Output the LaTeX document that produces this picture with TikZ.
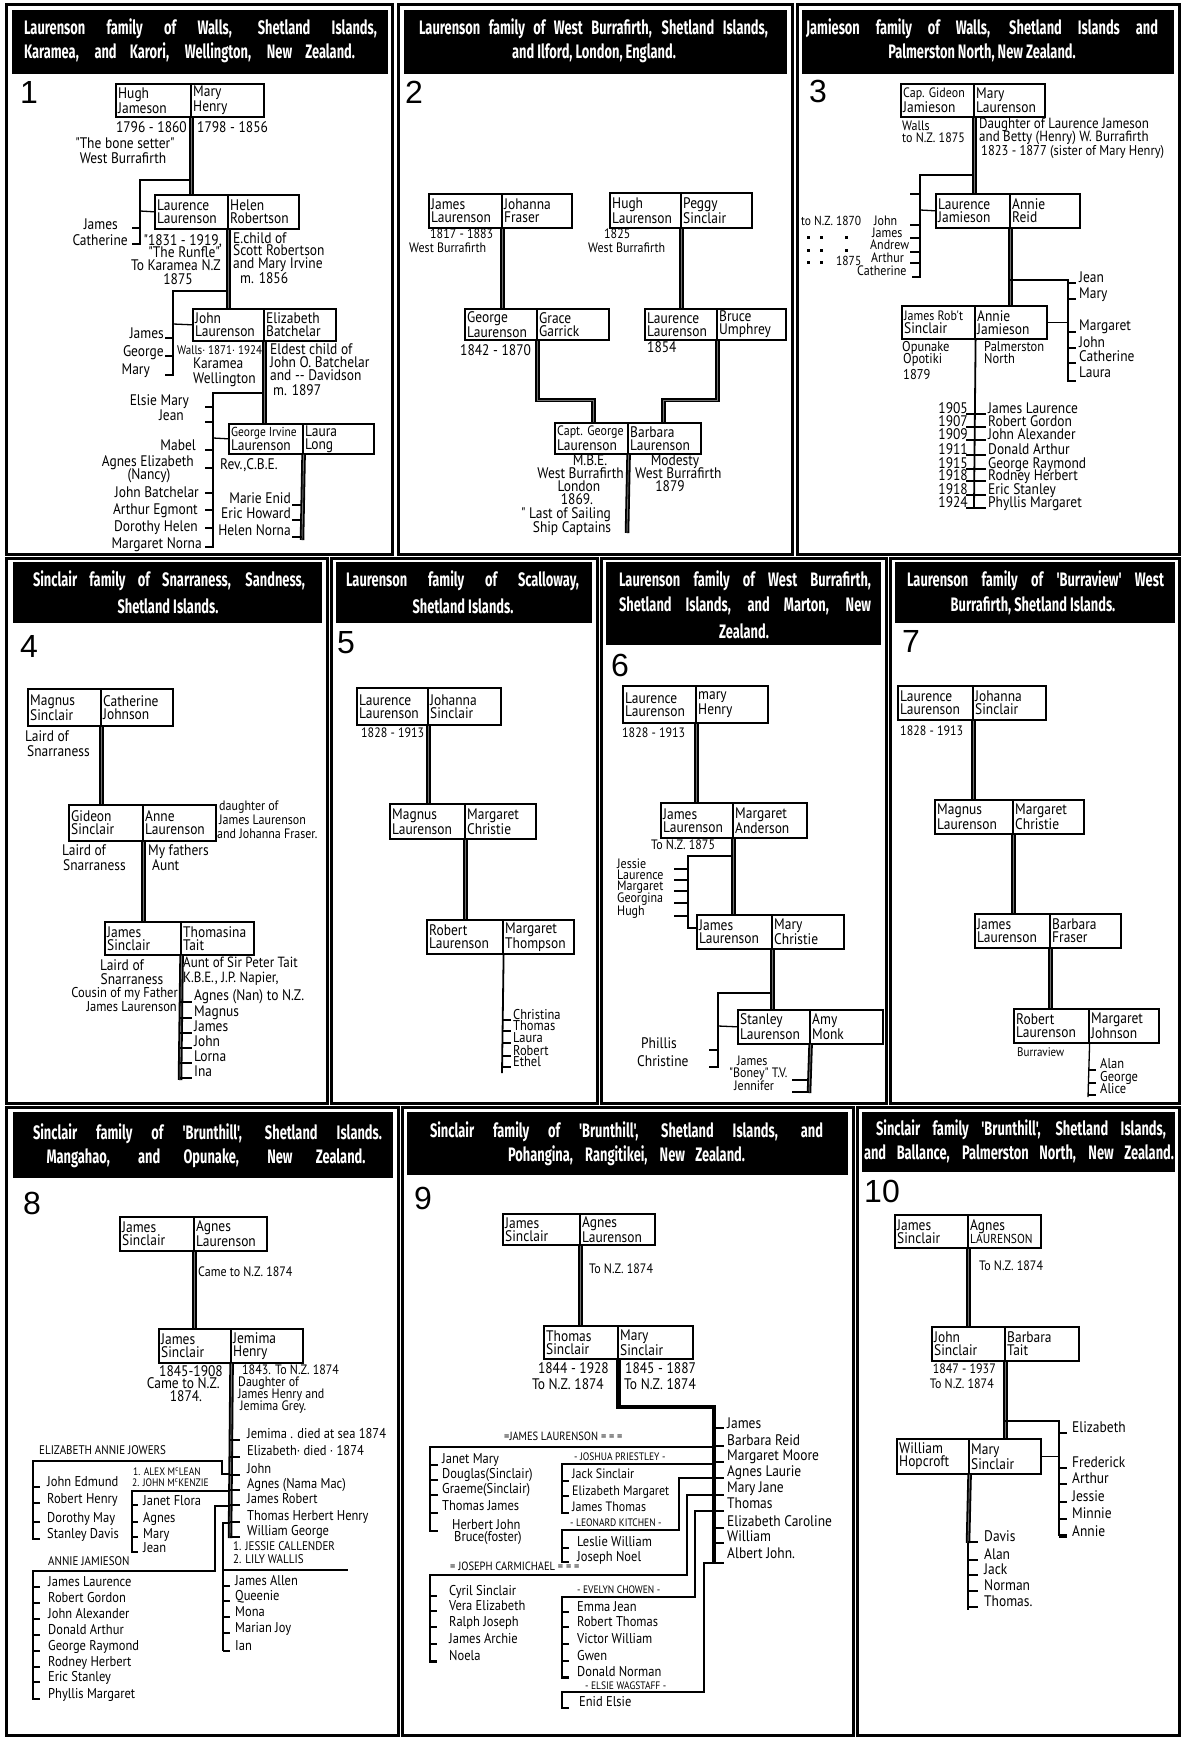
\documentclass[tikz,border=0pt]{standalone}
\usepackage{fontspec}
\setmainfont{PT Sans}
\newfontfamily\bfont[FakeStretch=0.88]{PT Sans}
\newfontfamily\hfont[FakeStretch=0.66]{Fira Sans}
\newfontfamily\nfont{Liberation Sans}
\newcounter{tn}
\newcommand\lbl[3][tx]{\stepcounter{tn}\node[#1] (n\arabic{tn}) at (#2) {#3};}
\newcommand\tk[3]{\draw[kin] (#1,#3) -- (#2,#3);}
\newcommand\cpl[8]{%
  \node[bx, anchor=north west, minimum width={#3-#2}, minimum height={#6-#5}] (#1-l) at (#2,#5) {};
  \node[bx, anchor=north west, minimum width={#4-#3}, minimum height={#6-#5}] (#1-r) at (#3,#5) {};
  \node[bt, anchor=west] (#1-lt) at ([xshift=3pt]#1-l.west) {#7};
  \node[bt, anchor=west] (#1-rt) at ([xshift=3pt]#1-r.west) {#8};}
\newcommand\hdr[5]{\node[hd, minimum width={#4-#2}, minimum height={#5-#3}] (#1) at (#2,#3) {};}
\begin{document}
\begin{tikzpicture}[x=1pt,y=-1pt,
  bx/.style={draw, line width=1.6pt, inner sep=0pt},
  bt/.style={font=\bfont\fontsize{15.3}{13}\selectfont, inner sep=0pt, align=left},
  tx/.style={font=\bfont\fontsize{15.3}{15.3}\selectfont, inner sep=0pt, anchor=west, text height=10.5pt, text depth=3.5pt},
  txr/.style={tx, anchor=east}, txc/.style={tx, anchor=center},
  tight/.style={text height=7.5pt, text depth=2pt},
  fs/.code={\pgfmathsetmacro\fsz{#1*1.136}\pgfkeysalso{font=\bfont\fontsize{\fsz}{\fsz}\selectfont}},
  desc/.style={line width=1.8pt, double=black!55, double distance=0.9pt},
  thk/.style={line width=4.5pt},
  kin/.style={line width=1.3pt},
  ml/.style={line width=2.6pt},
  frame/.style={line width=3pt},
  hd/.style={fill=black, inner sep=0pt, anchor=north west},
  ht/.style={font=\hfont\bfseries\fontsize{19.5}{19.5}\selectfont, text=white, inner sep=0pt},
  num/.style={font=\nfont\fontsize{32}{32}\selectfont, inner sep=0pt, anchor=west}]
\useasboundingbox (0,0) rectangle (1184,1739);
\fill[white] (0,0) rectangle (1184,1739);

% ---------------- Panel 1
\draw[frame] (6,5) rectangle (392,554);
\hdr{h1}{12}{10}{388}{74}
\node[ht] (h1a) at (200.5,29) {\makebox[353pt][s]{Laurenson family of Walls, Shetland Islands,}};
\node[ht] (h1b) at (189.5,53) {\makebox[331pt][s]{Karamea, and Karori, Wellington, New Zealand.}};
\node[num] (p1) at (20,92) {1};
\cpl{a1}{115}{190}{263}{83}{116}{Hugh\\Jameson}{Mary\\Henry}
\lbl[txr]{187,129}{1796 - 1860}
\lbl{197,129}{1798 - 1856}
\lbl[txc]{125,145}{"The bone setter"}
\lbl[txc]{123,160}{West Burrafirth}
\cpl{b1}{154}{227}{298}{194}{228}{Laurence\\Laurenson}{Helen\\Robertson}
\draw[desc] (a1-l.south east) -- (a1-l.south east |- b1-l.north);
\draw[kin] (190,180) -- (140,180) -- (140,244) -- (132,244);
\tk{132}{140}{228}
\draw[kin] (140,211) -- (b1-l.west);
\lbl[txr]{118,226}{James}
\lbl[txr]{128,242}{Catherine}
\lbl[txr]{222,242}{"1831 - 1919,}
\lbl[txr]{220,254}{"The Runfle"}
\lbl[txr]{221,267}{To Karamea N.Z}
\lbl[txc]{178,281}{1875}
\lbl{233,240}{E.child of}
\lbl{233,252}{Scott Robertson}
\lbl{233,265}{and Mary Irvine}
\lbl{240,280}{m. 1856}
\cpl{c1}{192}{263}{335}{308}{340}{John\\Laurenson}{Elizabeth\\Batchelar}
\draw[desc] (b1-l.south east) -- (b1-l.south east |- c1-l.north);
\draw[kin] (227,291) -- (173,291) -- (173,375) -- (165,375);
\tk{165}{173}{338} \tk{165}{173}{356}
\draw[kin] (173,324) -- (c1-l.west);
\lbl[txr]{164,335}{James}
\lbl[txr]{164,353}{George}
\lbl[txr]{150,371}{Mary}
\lbl[tx,fs=11]{177,351}{Walls· 1871· 1924}
\lbl{193,365}{Karamea}
\lbl{193,380}{Wellington}
\lbl{270,351}{Eldest child of}
\lbl{270,364}{John O. Batchelar}
\lbl{270,377}{and {-}{-} Davidson}
\lbl{273,392}{m. 1897}
\cpl{d1}{228}{302}{373}{423}{453}{{\fontsize{13}{13}\selectfont George Irvine}\\Laurenson}{Laura\\Long}
\draw[desc] (c1-l.south east) -- (c1-l.south east |- d1-l.north);
\draw[kin] (263,393) -- (213,393) -- (213,547) -- (205,547);
\foreach \y in {407,422,450,468,493,510,528} {\tk{205}{213}{\y}}
\draw[kin] (213,438) -- (d1-l.west);
\lbl[txr]{189,402}{Elsie Mary}
\lbl[txr]{184,417}{Jean}
\lbl[txr]{196,447}{Mabel}
\lbl[txr]{194,463}{Agnes Elizabeth}
\lbl[txc]{149,476}{(Nancy)}
\lbl[txr]{199,494}{John Batchelar}
\lbl[txr]{198,511}{Arthur Egmont}
\lbl[txr]{198,528}{Dorothy Helen}
\lbl[txr]{202,545}{Margaret Norna}
\lbl{220,466}{Rev.,C.B.E.}
\coordinate (d1e) at (302,540);
\draw[desc] (d1-l.south east) -- (d1e);
\foreach \y in {505,520,537} {\tk{292}{302}{\y}}
\lbl[txr]{291,500}{Marie Enid}
\lbl[txr]{291,515}{Eric Howard}
\lbl[txr]{291,532}{Helen Norna}

% ---------------- Panel 2
\draw[frame] (398,5) rectangle (792,554);
\hdr{h2}{404}{10}{787}{74}
\node[ht] (h2a) at (593.5,29) {\makebox[349pt][s]{Laurenson family of West Burrafirth, Shetland Islands,}};
\node[ht] (h2b) at (594,53) {and Ilford, London, England.};
\node[num] (p2) at (405,92) {2};
\cpl{a2}{428}{501}{571}{193}{227}{James\\Laurenson}{Johanna\\Fraser}
\lbl[tx,fs=12]{430,235}{1817 - 1883}
\lbl[tx,fs=12]{409,249}{West Burrafirth}
\cpl{b2}{464}{536}{608}{308}{339}{George\\Laurenson}{Grace\\Garrick}
\draw[desc] (a2-l.south east) -- (a2-l.south east |- b2-l.north);
\lbl{460,352}{1842 - 1870}
\cpl{c2}{609}{680}{751}{192}{227}{Hugh\\Laurenson}{Peggy\\Sinclair}
\lbl[tx,fs=12]{604,235}{1825}
\lbl[tx,fs=12]{588,249}{West Burrafirth}
\cpl{d2}{644}{716}{785}{308}{339}{Laurence\\Laurenson}{Bruce\\Umphrey}
\draw[desc] (c2-l.south east) -- (c2-l.south east |- d2-l.north);
\lbl{647,349}{1854}
\cpl{e2}{554}{627}{700}{422}{453}{{\fontsize{13.6}{13}\selectfont Capt. George}\\Laurenson}{Barbara\\Laurenson}
\draw[desc] (b2-l.south east) -- (b2-l.south east |- 0,400) -| ([xshift=-35pt]e2-l.north east);
\draw[desc] (d2-l.south east) -- (d2-l.south east |- 0,400) -| ([xshift=35pt]e2-l.north east);
\lbl[txc]{590,462}{M.B.E.}
\lbl[txr]{624,475}{West Burrafirth}
\lbl[txc]{579,488}{London}
\lbl[txc]{577,501}{1869.}
\lbl[txc]{566,515}{" Last of Sailing}
\lbl[txc]{572,529}{Ship Captains}
\lbl[txc]{675,462}{Modesty}
\lbl{635,475}{West Burrafirth}
\lbl[txc]{670,488}{1879}
\coordinate (e2e) at (627,533);
\draw[desc] (e2-l.south east) -- (e2e);

% ---------------- Panel 3
\draw[frame] (797,5) rectangle (1179,554);
\hdr{h3}{802}{10}{1174}{74}
\node[ht] (h3a) at (982,29) {\makebox[352pt][s]{Jamieson family of Walls, Shetland Islands and}};
\node[ht] (h3b) at (982,53) {Palmerston North, New Zealand.};
\node[num] (p3) at (809,91) {3};
\cpl{a3}{900}{973}{1044}{83}{116}{{\fontsize{13.6}{13}\selectfont Cap. Gideon}\\Jamieson}{Mary\\Laurenson}
\lbl[tx,fs=12]{902,127}{Walls}
\lbl[tx,fs=12]{902,139}{to N.Z. 1875}
\lbl[tx,fs=13]{979,125}{Daughter of Laurence Jameson}
\lbl[tx,fs=13]{979,138}{and Betty (Henry) W. Burrafirth}
\lbl[tx,fs=12.5]{981,152}{1823 - 1877 (sister of Mary Henry)}
\cpl{b3}{935}{1009}{1079}{193}{227}{Laurence\\Jamieson}{Annie\\Reid}
\draw[desc] (a3-l.south east) -- (a3-l.south east |- b3-l.north);
\draw[kin] (973,175) -- (920,175) -- (920,277) -- (912,277);
\foreach \y in {194,225,238,252,263} {\tk{910}{920}{\y}}
\draw[kin] (920,210) -- (b3-l.west);
\lbl[tx,fs=12]{874,222}{John}
\lbl[tx,fs=12]{872,234}{James}
\lbl[tx,fs=12]{870,246}{Andrew}
\lbl[tx,fs=12]{871,259}{Arthur}
\lbl[tx,fs=12]{857,272}{Catherine}
\lbl[tx,fs=11.5]{801,222}{to N.Z. 1870}
\foreach \x/\y in {807/236,820/236,845/236,807/249,820/249,845/249,807/261,820/261} {\fill (\x,\y) rectangle ++(3,3);}
\lbl[tx,fs=11.5]{836,262}{1875}
\cpl{c3}{901}{974}{1046}{305}{338}{{\fontsize{13.6}{13}\selectfont James Rob't}\\Sinclair}{Annie\\Jamieson}
\draw[desc] (b3-l.south east) -- (b3-l.south east |- c3-l.north);
\draw[kin] (1009,280) -- (1068,280) -- (1068,381) -- (1076,381);
\foreach \y in {283,299,332,348,363} {\tk{1068}{1076}{\y}}
\draw[kin] (c3-r.east) -- (c3-r.east -| 1068,0);
\foreach \y/\n in {279/Jean,295/Mary,327/Margaret,344/John,358/Catherine,374/Laura} {\lbl{1079,\y}{\n}}
\lbl[tx,fs=12.5]{902,348}{Opunake}
\lbl[tx,fs=12.5]{903,360}{Opotiki}
\lbl[tx,fs=12.5]{903,376}{1879}
\lbl[tx,fs=12.5]{984,348}{Palmerston}
\lbl[tx,fs=12.5]{984,360}{North}
\coordinate (c3e) at (974,507);
\draw[kin,line width=1.8pt] (c3-l.south east) -- (c3e);
\foreach \y/\a/\b in {410/1905/James Laurence,423/1907/Robert Gordon,436/1909/John Alexander,451/1911/Donald Arthur,465/1915/George Raymond,477/1918/Rodney Herbert,491/1918/Eric Stanley,504/1924/Phyllis Margaret} {\lbl[txr]{968,\y}{\a}\lbl{988,\y}{\b}\tk{966}{986}{\y+4}}

% ---------------- Panel 4
\draw[frame] (6,558) rectangle (327,1103);
\hdr{h4}{13}{562}{322}{623}
\node[ht] (h4a) at (169,581) {\makebox[272pt][s]{Sinclair family of Snarraness, Sandness,}};
\node[ht] (h4b) at (168,606) {Shetland Islands.};
\node[num] (p4) at (20,646) {4};
\cpl{a4}{27}{100}{172}{688}{725}{Magnus\\Sinclair}{Catherine\\Johnson}
\lbl{25,738}{Laird of}
\lbl{27,753}{Snarraness}
\cpl{b4}{68}{142}{215}{804}{840}{Gideon\\Sinclair}{Anne\\Laurenson}
\draw[desc] (a4-l.south east) -- (a4-l.south east |- b4-l.north);
\lbl[tx,fs=12]{219,807}{daughter of}
\lbl[tx,fs=12]{219,821}{James Laurenson}
\lbl[tx,fs=12]{217,835}{and Johanna Fraser.}
\lbl{62,852}{Laird of}
\lbl{63,867}{Snarraness}
\lbl{148,852}{My fathers}
\lbl{152,867}{Aunt}
\cpl{c4}{104}{180}{253}{921}{954}{James\\Sinclair}{Thomasina\\Tait}
\draw[desc] (b4-l.south east) -- (b4-l.south east |- c4-l.north);
\lbl[txc]{122,967}{Laird of}
\lbl[txc]{132,981}{Snarraness}
\lbl[txr,fs=12.5]{178,994}{Cousin of my Father}
\lbl[txr,fs=12.5]{177,1008}{James Laurenson}
\lbl[tx,fs=13]{183,964}{Aunt of Sir Peter Tait}
\lbl[tx,fs=13]{183,979}{K.B.E., J.P. Napier,}
\coordinate (c4e) at (180,1080);
\draw[desc] (c4-l.south east) -- (c4e);
\foreach \y/\n in {997/Agnes (Nan) to N.Z.,1013/Magnus,1028/James,1043/John,1058/Lorna,1073/Ina} {\lbl{194,\y}{\n}\tk{180}{192}{\y+5}}

% ---------------- Panel 5
\draw[frame] (331,558) rectangle (597,1103);
\hdr{h5}{336}{562}{592}{623}
\node[ht] (h5a) at (462.5,581) {\makebox[233pt][s]{Laurenson family of Scalloway,}};
\node[ht] (h5b) at (463,606) {Shetland Islands.};
\node[num] (p5) at (337,643) {5};
\cpl{a5}{356}{427}{500}{687}{724}{Laurence\\Laurenson}{Johanna\\Sinclair}
\lbl[tx,fs=12]{361,734}{1828 - 1913}
\cpl{b5}{389}{464}{535}{803}{838}{Magnus\\Laurenson}{Margaret\\Christie}
\draw[desc] (a5-l.south east) -- (a5-l.south east |- b5-l.north);
\cpl{c5}{426}{502}{573}{919}{953}{Robert\\Laurenson}{Margaret\\Thompson}
\draw[desc] (b5-l.south east) -- (b5-l.south east |- c5-l.north);
\coordinate (c5e) at (502,1073);
\draw[kin,line width=1.8pt] (c5-l.south east) -- (c5e);
\foreach \y/\n in {1016/Christina,1027/Thomas,1039/Laura,1052/Robert,1063/Ethel} {\lbl[tx,fs=12.5]{513,\y}{\n}\tk{502}{511}{\y+4}}

% ---------------- Panel 6
\draw[frame] (601,558) rectangle (886,1103);
\hdr{h6}{606}{562}{881}{645}
\node[ht] (h6a) at (745,581) {\makebox[252pt][s]{Laurenson family of West Burrafirth,}};
\node[ht] (h6b) at (745,606) {\makebox[252pt][s]{Shetland Islands, and Marton, New}};
\node[ht] (h6c) at (744,631) {Zealand.};
\node[num] (p6) at (611,665) {6};
\cpl{a6}{622}{695}{767}{685}{722}{Laurence\\Laurenson}{mary\\Henry}
\lbl[tx,fs=12]{622,734}{1828 - 1913}
\cpl{b6}{660}{732}{806}{802}{837}{James\\Laurenson}{Margaret\\Anderson}
\draw[desc] (a6-l.south east) -- (a6-l.south east |- b6-l.north);
\lbl[tx,fs=12]{651,846}{To N.Z. 1875}
\cpl{c6}{696}{771}{843}{914}{948}{James\\Laurenson}{Mary\\Christie}
\draw[desc] (b6-l.south east) -- (b6-l.south east |- c6-l.north);
\draw[kin] (732,856) -- (688,856) -- (688,928) -- (c6-l.west |- 0,928);
\foreach \y/\n in {865/Jessie,876/Laurence,887/Margaret,899/Georgina,912/Hugh} {\lbl[tx,fs=12]{617,\y}{\n}\tk{674}{688}{\y+4}}
\cpl{d6}{737}{809}{882}{1009}{1043}{Stanley\\Laurenson}{Amy\\Monk}
\draw[desc] (c6-l.south east) -- (c6-l.south east |- d6-l.north);
\draw[kin] (771,993) -- (718,993) -- (718,1067) -- (709,1067);
\tk{709}{718}{1050}
\draw[kin] (718,1026) -- (d6-l.west);
\lbl{641,1045}{Phillis}
\lbl{637,1063}{Christine}
\coordinate (d6e) at (809,1093);
\draw[desc] (d6-l.south east) -- (d6e);
\tk{792}{809}{1080} \tk{792}{809}{1092}
\lbl[tx,fs=12]{737,1062}{James}
\lbl[tx,fs=12]{729,1074}{"Boney" T.V.}
\lbl[tx,fs=12]{734,1087}{Jennifer}

% ---------------- Panel 7
\draw[frame] (890,558) rectangle (1179,1103);
\hdr{h7}{895}{562}{1175}{623}
\node[ht] (h7a) at (1035.5,581) {\makebox[257pt][s]{Laurenson family of 'Burraview' West}};
\node[ht] (h7b) at (1033,606) {Burrafirth, Shetland Islands.};
\node[num] (p7) at (902,641) {7};
\cpl{a7}{897}{972}{1045}{685}{719}{Laurence\\Laurenson}{Johanna\\Sinclair}
\lbl[tx,fs=12]{900,732}{1828 - 1913}
\cpl{b7}{934}{1012}{1083}{799}{833}{Magnus\\Laurenson}{Margaret\\Christie}
\draw[desc] (a7-l.south east) -- (a7-l.south east |- b7-l.north);
\cpl{c7}{974}{1049}{1120}{913}{947}{James\\Laurenson}{Barbara\\Fraser}
\draw[desc] (b7-l.south east) -- (b7-l.south east |- c7-l.north);
\cpl{d7}{1013}{1088}{1158}{1008}{1042}{Robert\\Laurenson}{Margaret\\Johnson}
\draw[desc] (c7-l.south east) -- (c7-l.south east |- d7-l.north);
\lbl[tx,fs=11]{1017,1053}{Burraview}
\coordinate (d7e) at (1088,1097);
\draw[kin] (d7-l.south east) -- (d7e);
\foreach \y/\n in {1065/Alan,1078/George,1090/Alice} {\lbl[tx,fs=12.5]{1100,\y}{\n}\tk{1088}{1096}{\y+5}}

% ---------------- Panel 8
\draw[frame] (6,1107) rectangle (398,1735);
\hdr{h8}{13}{1112}{393}{1178}
\node[ht] (h8a) at (207.5,1134) {\makebox[349pt][s]{Sinclair family of 'Brunthill', Shetland Islands.}};
\node[ht] (h8b) at (206,1158) {\makebox[319pt][s]{Mangahao, and Opunake, New Zealand.}};
\node[num] (p8) at (23,1203) {8};
\cpl{a8}{119}{193}{266}{1216}{1250}{James\\Sinclair}{Agnes\\Laurenson}
\lbl[tx,fs=12]{198,1273}{Came to N.Z. 1874}
\cpl{b8}{158}{230}{302}{1328}{1362}{James\\Sinclair}{Jemima\\Henry}
\draw[desc] (a8-l.south east) -- (a8-l.south east |- b8-l.north);
\lbl[txc]{191,1373}{1845-1908}
\lbl[txr]{220,1385}{Came to N.Z.}
\lbl[txc]{186,1398}{1874.}
\lbl[tx,fs=12,tight]{242,1372}{1843. To N.Z. 1874}
\lbl[tx,fs=12,tight]{238,1384}{Daughter of}
\lbl[tx,fs=12,tight]{238,1396}{James Henry and}
\lbl[tx,fs=12,tight]{240,1408}{Jemima Grey.}
\coordinate (b8e) at (230,1538);
\draw[desc] (b8-l.south east) -- (b8e);
\foreach \y/\n in {1435/Jemima . died at sea 1874,1452/Elizabeth· died · 1874,1470/John,1485/Agnes (Nama Mac),1500/James Robert,1517/Thomas Herbert Henry,1532/William George} {\lbl[tx,fs=12.5]{247,\y}{\n}\tk{230}{240}{\y+5}}
\draw[ml] (230,1474) -- (222,1474) -- (222,1461) -- (33,1461) -- (33,1539) -- (40,1539);
\foreach \y in {1487,1503,1522} {\tk{33}{40}{\y}}
\lbl[tx,fs=11]{39,1451}{ELIZABETH ANNIE JOWERS}
\foreach \y/\n in {1483/John Edmund,1500/Robert Henry,1519/Dorothy May,1535/Stanley Davis} {\lbl[tx,fs=12.5]{47,\y}{\n}}
\lbl[tx,fs=9.5]{133,1472}{1. ALEX M\textsuperscript{c}LEAN}
\lbl[tx,fs=9.5]{132,1483}{2. JOHN M\textsuperscript{c}KENZIE}
\draw[ml] (230,1491) -- (132,1491) -- (132,1552) -- (138,1552);
\foreach \y in {1505,1522,1537} {\tk{132}{138}{\y}}
\foreach \y/\n in {1502/Janet Flora,1519/Agnes,1535/Mary,1549/Jean} {\lbl[tx,fs=12.5]{143,\y}{\n}}
\draw[ml] (230,1506) -- (215,1506) -- (215,1571) -- (33,1571) -- (33,1699) -- (40,1699);
\lbl[tx,fs=11]{48,1562}{ANNIE JAMIESON}
\foreach \y/\n in {1583/James Laurence,1599/Robert Gordon,1615/John Alexander,1631/Donald Arthur,1647/George Raymond,1663/Rodney Herbert,1678/Eric Stanley,1695/Phyllis Margaret} {\lbl[tx,fs=12.5]{48,\y}{\n}\tk{33}{40}{\y+4}}
\draw[ml] (230,1523) -- (223,1523) -- (223,1651);
\draw[ml] (223,1570) -- (348,1570);
\lbl[tx,fs=11]{233,1547}{1. JESSIE CALLENDER}
\lbl[tx,fs=11]{233,1560}{2. LILY WALLIS}
\foreach \y/\n in {1582/James Allen,1597/Queenie,1613/Mona,1629/Marian Joy,1647/Ian} {\lbl[tx,fs=12.5]{235,\y}{\n}\tk{223}{230}{\y+4}}

% ---------------- Panel 9
\draw[frame] (402,1107) rectangle (853,1735);
\hdr{h9}{407}{1112}{848}{1175}
\node[ht] (h9a) at (626.5,1132) {\makebox[393pt][s]{Sinclair family of 'Brunthill', Shetland Islands, and}};
\node[ht] (h9b) at (626.5,1156) {\makebox[237pt][s]{Pohangina, Rangitikei, New Zealand.}};
\node[num] (p9) at (414,1198) {9};
\cpl{a9}{502}{579}{654}{1213}{1244}{James\\Sinclair}{Agnes\\Laurenson}
\lbl[tx,fs=12]{589,1270}{To N.Z. 1874}
\cpl{b9}{543}{617}{692}{1325}{1358}{Thomas\\Sinclair}{Mary\\Sinclair}
\draw[desc] (a9-l.south east) -- (a9-l.south east |- b9-l.north);
\lbl[txr]{609,1370}{1844 - 1928}
\lbl[txr]{604,1386}{To N.Z. 1874}
\lbl{625,1370}{1845 - 1887}
\lbl{624,1386}{To N.Z. 1874}
\coordinate (b9e) at (714,1563);
\draw[thk] (b9-l.south east) |- (714,1407) -- (b9e);
\foreach \y/\n in {1425/James,1442/Barbara Reid,1457/Margaret Moore,1473/Agnes Laurie,1489/Mary Jane,1505/Thomas,1523/Elizabeth Caroline,1538/William,1555/Albert John.} {\lbl{727,\y}{\n}}
\foreach \y in {1428,1446,1462,1478,1495,1511,1528,1543,1563} {\tk{714}{724}{\y}}
\draw[ml] (714,1447) -- (430,1447) -- (430,1531) -- (438,1531);
\lbl[tx,fs=10.5]{504,1437}{=JAMES LAURENSON = = =}
\foreach \y in {1465,1480,1495,1513} {\tk{430}{438}{\y}}
\foreach \y/\n in {1460/Janet Mary,1475/Douglas(Sinclair),1490/Graeme(Sinclair),1507/Thomas James} {\lbl[tx,fs=12.5]{442,\y}{\n}}
\lbl[tx,fs=12.5]{452,1526}{Herbert John}
\lbl[tx,fs=12.5]{454,1538}{Bruce(foster)}
\draw[ml] (714,1464) -- (562,1464) -- (562,1513) -- (569,1513);
\lbl[tx,fs=9.5]{574,1457}{- JOSHUA PRIESTLEY -}
\foreach \y in {1481,1496} {\tk{562}{569}{\y}}
\foreach \y/\n in {1475/Jack Sinclair,1492/Elizabeth Margaret,1508/James Thomas} {\lbl[tx,fs=12]{572,\y}{\n}}
\draw[ml] (714,1478) -- (679,1478) -- (679,1530) -- (562,1530) -- (562,1562) -- (569,1562);
\tk{562}{569}{1548}
\lbl[tx,fs=9.5]{570,1523}{- LEONARD KITCHEN -}
\lbl[tx,fs=12.5]{577,1543}{Leslie William}
\lbl[tx,fs=12.5]{577,1558}{Joseph Noel}
\draw[ml] (714,1495) -- (687,1495) -- (687,1575) -- (430,1575) -- (430,1662) -- (437,1662);
\lbl[tx,fs=10.5]{450,1567}{= JOSEPH CARMICHAEL = = =}
\foreach \y/\n in {1592/Cyril Sinclair,1607/Vera Elizabeth,1623/Ralph Joseph,1640/James Archie,1657/Noela} {\lbl[tx,fs=12.5]{449,\y}{\n}\tk{430}{437}{\y+4}}
\draw[ml] (714,1511) -- (695,1511) -- (695,1597) -- (562,1597) -- (562,1678) -- (569,1678);
\lbl[tx,fs=9.5]{577,1590}{- EVELYN CHOWEN -}
\foreach \y/\n in {1608/Emma Jean,1623/Robert Thomas,1640/Victor William,1657/Gwen,1673/Donald Norman} {\lbl[tx,fs=12.5]{577,\y}{\n}\tk{562}{569}{\y+4}}
\draw[ml] (714,1563) -- (704,1563) -- (704,1692) -- (562,1692) -- (562,1708) -- (569,1708);
\lbl[tx,fs=9.5]{585,1686}{- ELSIE WAGSTAFF -}
\lbl[tx,fs=12.5]{579,1703}{Enid Elsie}

% ---------------- Panel 10
\draw[frame] (857,1107) rectangle (1179,1735);
\hdr{h10}{862}{1112}{1175}{1172}
\node[ht] (h10a) at (1021,1130) {\makebox[290pt][s]{Sinclair family 'Brunthill', Shetland Islands,}};
\node[ht] (h10b) at (1019,1154) {\makebox[310pt][s]{and Ballance, Palmerston North, New Zealand.}};
\node[num] (p10) at (864,1191) {10};
\cpl{a10}{894}{967}{1040}{1214}{1247}{James\\Sinclair}{Agnes\\{\fontsize{13}{13}\selectfont LAURENSON}}
\lbl[tx,fs=12]{979,1267}{To N.Z. 1874}
\cpl{b10}{931}{1004}{1078}{1326}{1360}{John\\Sinclair}{Barbara\\Tait}
\draw[desc] (a10-l.south east) -- (a10-l.south east |- b10-l.north);
\lbl[txr,fs=12]{996,1370}{1847 - 1937}
\lbl[txr,fs=12]{994,1385}{To N.Z. 1874}
\cpl{c10}{896}{968}{1040}{1438}{1473}{William\\Hopcroft}{Mary\\Sinclair}
\draw[desc] (b10-l.south east) -- (b10-l.south east |- c10-l.north);
\draw[kin] (1004,1421) -- (1059,1421) -- (1059,1535) -- (1067,1535);
\draw[kin] (c10-r.east) -- (c10-r.east -| 1059,0);
\foreach \y/\n in {1429/Elizabeth,1464/Frederick,1480/Arthur,1498/Jessie,1515/Minnie,1533/Annie} {\lbl{1072,\y}{\n}\tk{1059}{1067}{\y+4}}
\coordinate (c10m) at (968,1543);
\coordinate (c10e) at (968,1610);
\draw[desc] (c10-l.south east) -- (c10m);
\draw[kin] (c10m) -- (c10e);
\foreach \y/\n in {1538/Davis,1556/Alan,1571/Jack,1587/Norman,1603/Thomas.} {\lbl{984,\y}{\n}\tk{968}{978}{\y+4}}
\end{tikzpicture}
\end{document}
